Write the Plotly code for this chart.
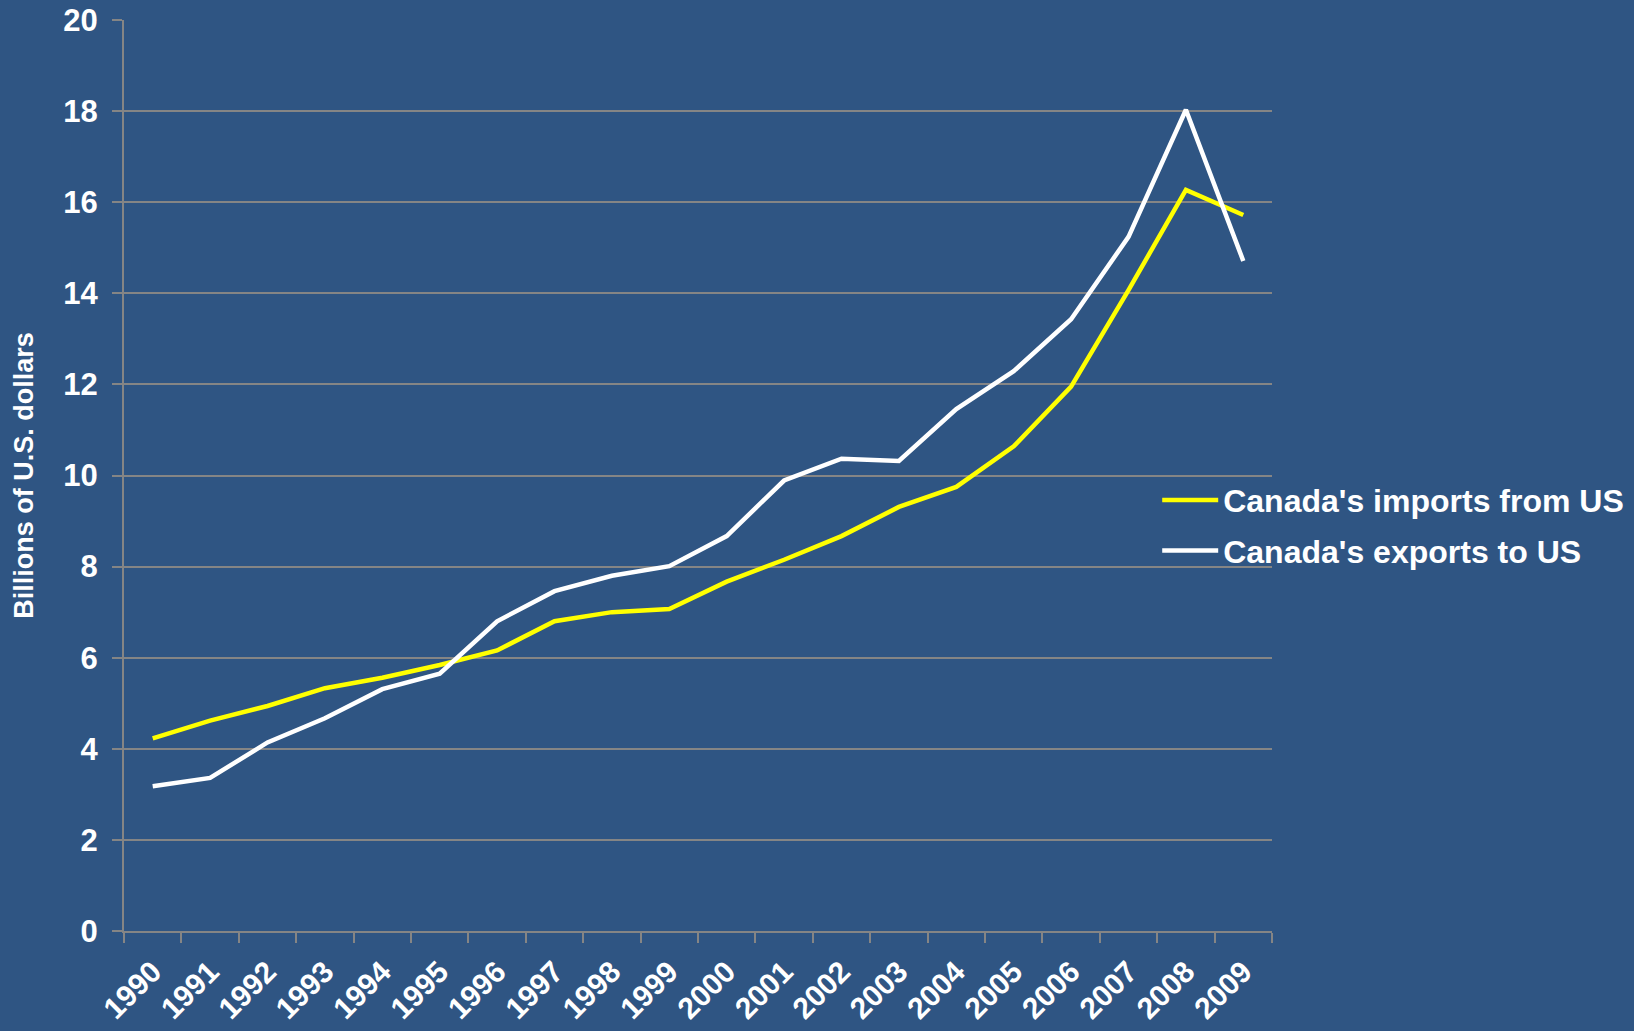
import plotly.graph_objects as go

years = [str(y) for y in range(1990, 2010)]
imports_from_us = [4.23, 4.62, 4.94, 5.33, 5.56, 5.84, 6.16, 6.80, 7.00, 7.07,
                   7.67, 8.15, 8.67, 9.31, 9.75, 10.64, 11.95, 14.07, 16.27, 15.72]
exports_to_us = [3.18, 3.36, 4.14, 4.67, 5.31, 5.65, 6.80, 7.46, 7.80, 8.01,
                 8.67, 9.89, 10.37, 10.32, 11.46, 12.29, 13.43, 15.24, 18.03, 14.71]
y_ticks = [0, 2, 4, 6, 8, 10, 12, 14, 16, 18, 20]

BG = "#2f5583"
GRID = "#858585"
FONT = "Liberation Sans, Arial, sans-serif"

fig = go.Figure()
fig.add_trace(go.Scatter(x=years, y=imports_from_us, mode="lines",
                         name="Canada's imports from US", legendgroup="a",
                         line=dict(color="#ffff00", width=4.5)))
fig.add_trace(go.Scatter(x=years, y=exports_to_us, mode="lines",
                         name="Canada's exports to US", legendgroup="b",
                         line=dict(color="#ffffff", width=4.5)))

fig.update_layout(
    width=1634, height=1031,
    paper_bgcolor=BG, plot_bgcolor=BG,
    margin=dict(l=124, r=362, t=20, b=100, autoexpand=False),
    font=dict(family=FONT, color="white", size=31, weight="bold"),
    showlegend=True,
    legend=dict(x=0.9, xanchor="left", y=0.445, yanchor="middle",
                bgcolor="rgba(0,0,0,0)", font=dict(size=32, color="white", weight="bold"),
                traceorder="grouped", tracegroupgap=6, itemwidth=56),
    xaxis=dict(type="category", tickson="boundaries", ticks="outside", ticklen=10,
               tickcolor=GRID, tickwidth=2, showline=True, linecolor=GRID, linewidth=2,
               showgrid=False, tickangle=-45, tickfont=dict(size=30),
               ticklabelstandoff=9, range=[-0.5, 19.5]),
    yaxis=dict(range=[0, 20], tickvals=y_ticks, ticks="outside", ticklen=10,
               tickcolor=GRID, tickwidth=2, showline=True, linecolor=GRID, linewidth=2,
               showgrid=True, gridcolor=GRID, gridwidth=2, zeroline=False,
               tickfont=dict(size=31), ticklabelstandoff=8,
               title=dict(text="Billions of U.S. dollars", font=dict(size=27), standoff=22)),
)

fig.write_html("out.html", config={"displayModeBar": False},
               post_script="document.body.style.margin='0';")
